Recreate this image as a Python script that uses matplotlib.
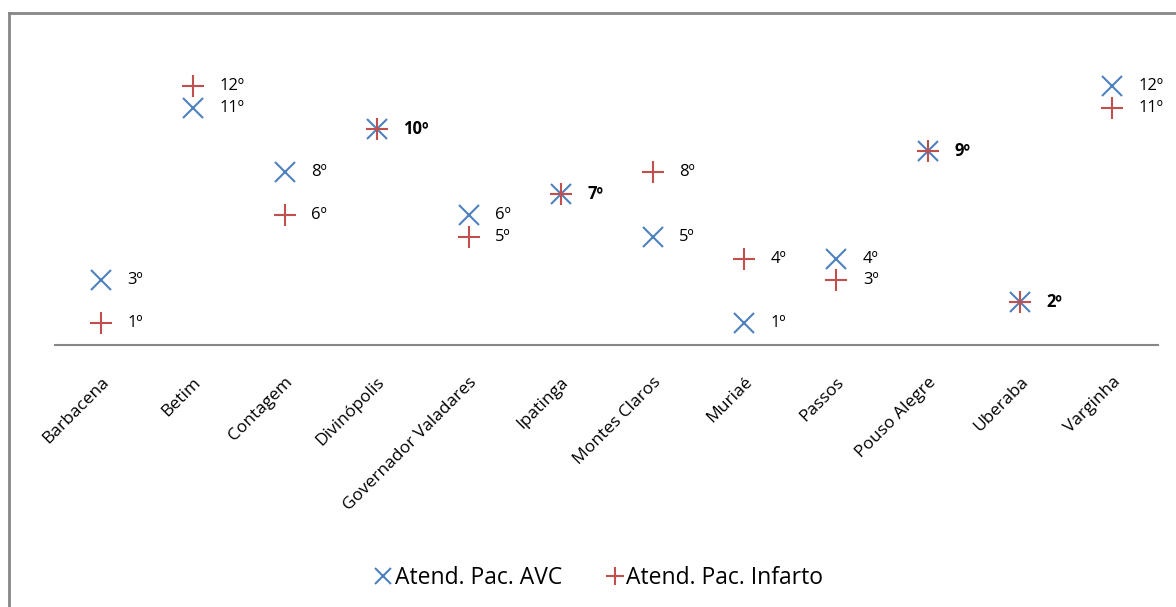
import matplotlib
matplotlib.use("Agg")
import matplotlib.pyplot as plt
from matplotlib.lines import Line2D

plt.rcParams['font.family'] = ['Open Sans', 'DejaVu Sans']

cidades = ["Barbacena", "Betim", "Contagem", "Divinópolis", "Governador Valadares",
           "Ipatinga", "Montes Claros", "Muriaé", "Passos", "Pouso Alegre",
           "Uberaba", "Varginha"]
rank_avc = [3, 11, 8, 10, 6, 7, 5, 1, 4, 9, 2, 12]
rank_infarto = [1, 12, 6, 10, 5, 7, 8, 4, 3, 9, 2, 11]

azul = "#4F81BD"
vermelho = "#C0504D"

fig = plt.figure(figsize=(11.76, 6.07), dpi=100)
ax = fig.add_axes([0.0468, 0.4316, 0.938, 0.498])

x = list(range(len(cidades)))
ax.plot(x, rank_avc, linestyle="none", marker="x", ms=14, mew=1.5,
        color=azul, label="Atend. Pac. AVC")
ax.plot(x, rank_infarto, linestyle="none", marker="+", ms=16, mew=1.5,
        color=vermelho, label="Atend. Pac. Infarto")

# rotulos de posicao
for i in x:
    a, b = rank_avc[i], rank_infarto[i]
    if a == b:
        ax.annotate(f"{a}º", (i, a), xytext=(19, 0), textcoords="offset points",
                    va="center", ha="left", fontsize=12, fontweight="bold")
    else:
        for r in (a, b):
            ax.annotate(f"{r}º", (i, r), xytext=(19, 0), textcoords="offset points",
                        va="center", ha="left", fontsize=12)

ax.set_xlim(-0.5, len(cidades) - 0.5)
ax.set_ylim(0, 14)
ax.set_xticks(x)
ax.set_xticklabels(cidades, rotation=45, ha="right", rotation_mode="anchor",
                   fontsize=12.5)
ax.tick_params(axis="x", length=0, pad=21)
ax.set_yticks([])
for s in ["top", "right", "left"]:
    ax.spines[s].set_visible(False)
ax.spines["bottom"].set_color("#868686")
ax.spines["bottom"].set_linewidth(1.5)

fig.legend(loc="center", bbox_to_anchor=(0.51, 0.047), ncol=2, frameon=False,
           fontsize=16.5, handlelength=0.6, handletextpad=0.2, columnspacing=2.0,
           markerscale=0.85)

# moldura do grafico
fig.add_artist(Line2D([9 / 1176, 9 / 1176], [0, 1 - 13 / 607],
                      transform=fig.transFigure, color="#868686", lw=2))
fig.add_artist(Line2D([9 / 1176, 1], [1 - 13 / 607, 1 - 13 / 607],
                      transform=fig.transFigure, color="#868686", lw=2))

fig.savefig("out.png", dpi=100)
